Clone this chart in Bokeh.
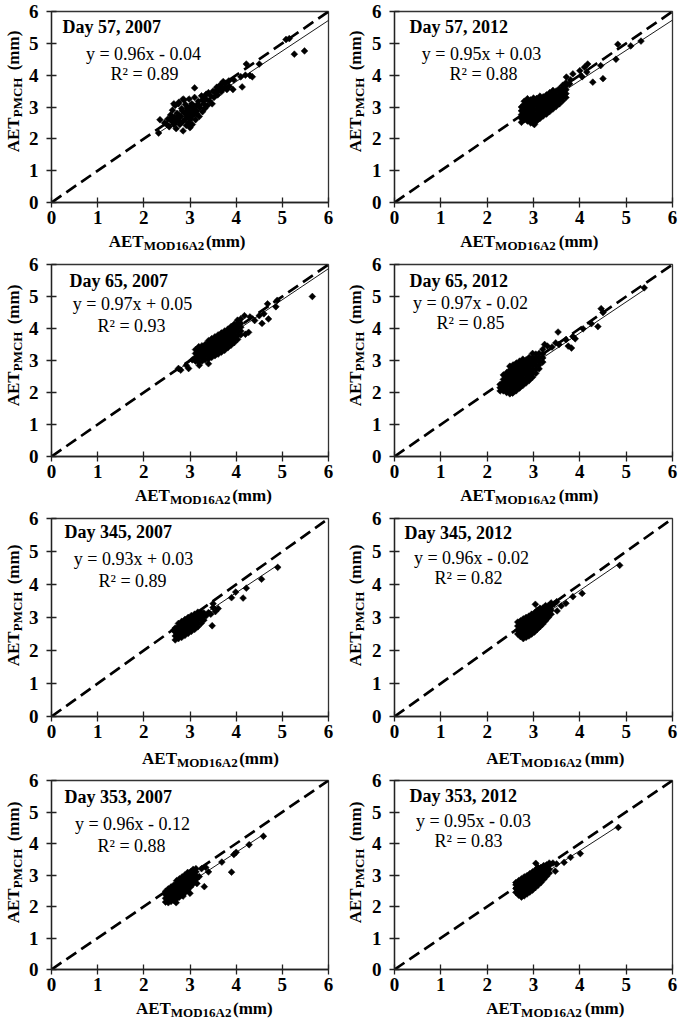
import math
from bokeh.plotting import figure
from bokeh.layouts import column, row
from bokeh.models import Range1d, FixedTicker, Label
from bokeh.embed import file_html
from bokeh.resources import INLINE

# ---------------- data ----------------
TITLES = ["Day 57, 2007", "Day 57, 2012", "Day 65, 2007", "Day 65, 2012",
          "Day 345, 2007", "Day 345, 2012", "Day 353, 2007", "Day 353, 2012"]
SLOPES = [0.96, 0.95, 0.97, 0.97, 0.93, 0.96, 0.96, 0.95]
INTERCEPTS = [-0.04, 0.03, 0.05, -0.02, 0.03, -0.02, -0.12, -0.03]
R2 = [0.89, 0.88, 0.93, 0.85, 0.89, 0.82, 0.88, 0.83]
FIT_X = [(2.3, 6.0), (2.75, 6.0), (2.75, 6.0), (2.25, 5.4),
         (2.65, 4.9), (2.65, 4.86), (2.45, 4.6), (2.6, 4.83)]
TICKS = [0, 1, 2, 3, 4, 5, 6]
ONE_TO_ONE = [0, 6]
X_TITLE = ("AET", "MOD16A2", "(mm)")
Y_TITLE = ("AET", "PMCH", "(mm)")

d57_2007 = [
    (2.32, 2.18), (2.35, 2.60), (2.45, 2.50), (2.50, 2.45), (2.52, 2.62), (2.55, 2.38), (2.58, 2.75),
    (2.60, 2.55), (2.62, 2.90), (2.65, 2.45), (2.66, 2.68), (2.68, 3.05), (2.70, 2.32), (2.72, 2.80),
    (2.74, 2.58), (2.76, 3.15), (2.78, 2.45), (2.80, 2.70), (2.82, 2.95), (2.85, 2.25), (2.85, 2.55),
    (2.87, 3.22), (2.88, 2.80), (2.90, 2.62), (2.92, 2.42), (2.94, 3.00), (2.95, 2.72), (2.97, 2.52),
    (2.98, 3.25), (3.00, 2.85), (3.02, 2.62), (3.04, 3.10), (3.05, 2.45), (3.07, 2.95), (3.08, 2.75),
    (3.10, 3.60), (3.10, 3.30), (3.12, 2.60), (3.14, 3.05), (3.15, 2.88), (3.18, 3.18), (3.20, 2.70),
    (3.22, 2.98), (3.25, 3.35), (3.27, 2.85), (3.30, 3.10), (3.32, 2.95), (3.35, 3.25), (3.38, 3.05),
    (3.40, 3.45), (3.42, 3.20), (3.45, 3.35), (3.48, 3.10), (3.50, 3.50), (3.52, 3.30), (3.55, 3.45),
    (3.58, 3.62), (3.60, 3.38), (3.63, 3.55), (3.66, 3.70), (3.68, 3.48), (3.72, 3.80), (3.75, 3.62),
    (3.78, 3.75), (3.80, 3.55), (3.84, 3.82), (3.93, 3.55), (3.70, 3.55), (4.13, 3.63), (4.22, 4.35),
    (4.30, 3.99), (4.35, 3.95), (4.50, 4.35), (5.08, 5.12), (5.15, 5.15), (5.26, 4.66), (5.48, 4.76),
    (2.75, 3.10), (2.65, 3.10), (2.85, 3.25), (2.72, 2.62), (2.80, 2.50), (2.92, 2.85), (3.00, 2.35),
    (2.60, 2.65), (2.95, 2.95), (3.05, 2.75), (3.15, 2.78), (3.10, 2.90), (2.68, 2.52), (2.77, 2.72),
    (2.83, 2.88), (2.90, 3.08), (2.97, 2.68), (3.02, 3.02), (3.20, 3.05), (3.28, 3.20), (3.35, 3.40),
    (3.60, 3.50), (3.85, 3.65), (4.10, 3.95), (3.95, 3.85), (4.20, 4.00),
]

d57_2012 = [
    (2.74, 2.52), (2.74, 2.64), (2.74, 2.76), (2.74, 2.88), (2.74, 3.00),
    (2.80, 2.60), (2.80, 2.72), (2.80, 2.84), (2.80, 2.96), (2.80, 3.08), (2.80, 3.18),
    (2.87, 2.56), (2.87, 2.68), (2.87, 2.80), (2.87, 2.92), (2.87, 3.04), (2.87, 3.16), (2.87, 3.26),
    (2.94, 2.50), (2.94, 2.62), (2.94, 2.74), (2.94, 2.86), (2.94, 2.98), (2.94, 3.10), (2.94, 3.22),
    (3.00, 2.48), (3.00, 2.58), (3.00, 2.70), (3.00, 2.82), (3.00, 2.94), (3.00, 3.06), (3.00, 3.18),
    (3.00, 3.28), (3.07, 2.56), (3.07, 2.68), (3.07, 2.80), (3.07, 2.92), (3.07, 3.04), (3.07, 3.16),
    (3.07, 3.27), (3.14, 2.64), (3.14, 2.76), (3.14, 2.88), (3.14, 3.00), (3.14, 3.12), (3.14, 3.24),
    (3.14, 3.34), (3.21, 2.72), (3.21, 2.84), (3.21, 2.96), (3.21, 3.08), (3.21, 3.20), (3.21, 3.32),
    (3.28, 2.78), (3.28, 2.90), (3.28, 3.02), (3.28, 3.14), (3.28, 3.26), (3.28, 3.38),
    (3.35, 2.86), (3.35, 2.98), (3.35, 3.10), (3.35, 3.22), (3.35, 3.34), (3.35, 3.45),
    (3.42, 2.94), (3.42, 3.06), (3.42, 3.18), (3.42, 3.30), (3.42, 3.42), (3.42, 3.52),
    (3.49, 3.02), (3.49, 3.14), (3.49, 3.26), (3.49, 3.38), (3.49, 3.50),
    (3.56, 3.10), (3.56, 3.22), (3.56, 3.34), (3.56, 3.46), (3.56, 3.58),
    (3.63, 3.20), (3.63, 3.32), (3.63, 3.44), (3.63, 3.56), (3.63, 3.68),
    (3.70, 3.30), (3.70, 3.42), (3.70, 3.54), (3.70, 3.66), (3.70, 3.76),
    (3.71, 3.94), (3.78, 3.73), (3.85, 4.04), (4.00, 4.14), (4.05, 3.95), (4.17, 4.35), (4.15, 4.10),
    (4.28, 3.78), (4.50, 3.89), (4.45, 4.30), (4.78, 4.50), (4.82, 4.97), (5.10, 4.92), (5.32, 5.07),
    (3.02, 2.45), (3.80, 3.85), (4.10, 4.25),
]

d65_2007 = [
    (3.12, 2.98), (3.12, 3.10), (3.12, 3.22), (3.12, 3.34),
    (3.19, 2.95), (3.19, 3.07), (3.19, 3.19), (3.19, 3.31), (3.19, 3.43),
    (3.26, 2.98), (3.26, 3.10), (3.26, 3.22), (3.26, 3.34), (3.26, 3.46),
    (3.33, 3.02), (3.33, 3.14), (3.33, 3.26), (3.33, 3.38), (3.33, 3.50),
    (3.40, 3.05), (3.40, 3.17), (3.40, 3.29), (3.40, 3.41), (3.40, 3.53), (3.40, 3.62),
    (3.47, 3.10), (3.47, 3.22), (3.47, 3.34), (3.47, 3.46), (3.47, 3.58), (3.47, 3.68),
    (3.54, 3.15), (3.54, 3.27), (3.54, 3.39), (3.54, 3.51), (3.54, 3.63), (3.54, 3.74),
    (3.61, 3.20), (3.61, 3.32), (3.61, 3.44), (3.61, 3.56), (3.61, 3.68), (3.61, 3.80),
    (3.68, 3.26), (3.68, 3.38), (3.68, 3.50), (3.68, 3.62), (3.68, 3.74), (3.68, 3.86),
    (3.75, 3.32), (3.75, 3.44), (3.75, 3.56), (3.75, 3.68), (3.75, 3.80), (3.75, 3.92),
    (3.82, 3.40), (3.82, 3.52), (3.82, 3.64), (3.82, 3.76), (3.82, 3.88), (3.82, 3.98),
    (3.89, 3.48), (3.89, 3.60), (3.89, 3.72), (3.89, 3.84), (3.89, 3.96), (3.89, 4.06),
    (3.96, 3.56), (3.96, 3.68), (3.96, 3.80), (3.96, 3.92), (3.96, 4.04), (3.96, 4.14),
    (4.03, 3.66), (4.03, 3.78), (4.03, 3.90), (4.03, 4.02), (4.03, 4.14), (4.03, 4.26),
    (4.10, 3.80), (4.10, 3.92), (4.10, 4.04), (4.10, 4.16), (4.10, 4.30),
    (2.75, 2.75), (2.80, 2.70), (2.92, 2.85), (2.97, 2.75), (3.05, 3.02), (3.20, 2.85), (3.40, 2.90),
    (4.20, 3.82), (4.27, 3.88), (4.18, 4.40), (4.30, 4.36), (4.56, 4.16), (4.60, 4.46), (4.70, 4.30),
    (4.68, 4.77), (4.86, 4.68), (4.89, 4.88), (5.65, 5.00), (4.40, 4.25), (4.50, 4.40),
]

d65_2012 = [
    (2.28, 2.05), (2.28, 2.15), (2.28, 2.25),
    (2.35, 2.05), (2.35, 2.17), (2.35, 2.29), (2.35, 2.41),
    (2.42, 2.00), (2.42, 2.12), (2.42, 2.24), (2.42, 2.36), (2.42, 2.50), (2.42, 2.62),
    (2.49, 1.96), (2.49, 2.08), (2.49, 2.20), (2.49, 2.32), (2.49, 2.44), (2.49, 2.56), (2.49, 2.70),
    (2.49, 2.82), (2.56, 2.02), (2.56, 2.14), (2.56, 2.26), (2.56, 2.38), (2.56, 2.50), (2.56, 2.62),
    (2.56, 2.74), (2.56, 2.86), (2.63, 2.06), (2.63, 2.18), (2.63, 2.30), (2.63, 2.42), (2.63, 2.54),
    (2.63, 2.66), (2.63, 2.78), (2.63, 2.92), (2.70, 2.14), (2.70, 2.26), (2.70, 2.38), (2.70, 2.50),
    (2.70, 2.62), (2.70, 2.74), (2.70, 2.86), (2.70, 2.98), (2.77, 2.22), (2.77, 2.34), (2.77, 2.46),
    (2.77, 2.58), (2.77, 2.70), (2.77, 2.82), (2.77, 2.94), (2.77, 3.04),
    (2.84, 2.30), (2.84, 2.42), (2.84, 2.54), (2.84, 2.66), (2.84, 2.78), (2.84, 2.90), (2.84, 3.02),
    (2.91, 2.38), (2.91, 2.50), (2.91, 2.62), (2.91, 2.74), (2.91, 2.86), (2.91, 2.98), (2.91, 3.10),
    (2.98, 2.48), (2.98, 2.60), (2.98, 2.72), (2.98, 2.84), (2.98, 2.96), (2.98, 3.08), (2.98, 3.22),
    (3.05, 2.60), (3.05, 2.72), (3.05, 2.84), (3.05, 2.96), (3.05, 3.08), (3.05, 3.20),
    (3.12, 2.74), (3.12, 2.86), (3.12, 2.98), (3.12, 3.10), (3.12, 3.22),
    (3.20, 2.95), (3.20, 3.08), (3.20, 3.20), (3.20, 3.35),
    (3.24, 3.50), (3.30, 3.45), (3.40, 3.42), (3.53, 3.89), (3.55, 3.50), (3.48, 3.55), (3.70, 3.65),
    (3.75, 3.45), (3.82, 3.39), (3.85, 3.75), (3.90, 3.68), (4.07, 3.99), (4.25, 4.15), (4.39, 4.06),
    (4.46, 4.62), (4.50, 4.50), (5.39, 5.27), (2.55, 1.98), (2.60, 2.05), (2.35, 2.55),
]

d345_2007 = [
    (2.68, 2.32), (2.68, 2.44), (2.68, 2.56), (2.68, 2.68),
    (2.75, 2.36), (2.75, 2.48), (2.75, 2.60), (2.75, 2.72), (2.75, 2.82),
    (2.82, 2.40), (2.82, 2.52), (2.82, 2.64), (2.82, 2.76), (2.82, 2.88),
    (2.89, 2.46), (2.89, 2.58), (2.89, 2.70), (2.89, 2.82), (2.89, 2.94),
    (2.96, 2.52), (2.96, 2.64), (2.96, 2.76), (2.96, 2.88), (2.96, 3.00),
    (3.03, 2.58), (3.03, 2.70), (3.03, 2.82), (3.03, 2.94), (3.03, 3.06),
    (3.10, 2.64), (3.10, 2.76), (3.10, 2.88), (3.10, 3.00), (3.10, 3.10),
    (3.17, 2.72), (3.17, 2.84), (3.17, 2.96), (3.17, 3.08), (3.17, 3.16),
    (3.24, 2.82), (3.24, 2.94), (3.24, 3.06), (3.24, 3.16),
    (3.30, 2.92), (3.30, 3.04), (3.30, 3.14),
    (3.48, 2.75), (3.45, 3.10), (3.50, 3.42), (3.50, 3.30), (3.61, 3.27), (3.55, 3.18), (3.90, 3.60),
    (3.99, 3.77), (4.15, 3.59), (4.22, 3.89), (4.55, 4.16), (4.90, 4.52), (2.65, 2.62), (3.35, 3.05),
    (3.40, 3.15),
]

d345_2012 = [
    (2.66, 2.50), (2.66, 2.62), (2.66, 2.74), (2.66, 2.86),
    (2.72, 2.42), (2.72, 2.54), (2.72, 2.66), (2.72, 2.78), (2.72, 2.90),
    (2.78, 2.36), (2.78, 2.48), (2.78, 2.60), (2.78, 2.72), (2.78, 2.84), (2.78, 2.96),
    (2.84, 2.40), (2.84, 2.52), (2.84, 2.64), (2.84, 2.76), (2.84, 2.88), (2.84, 3.00),
    (2.90, 2.44), (2.90, 2.56), (2.90, 2.68), (2.90, 2.80), (2.90, 2.92), (2.90, 3.04),
    (2.96, 2.50), (2.96, 2.62), (2.96, 2.74), (2.96, 2.86), (2.96, 2.98), (2.96, 3.10),
    (3.02, 2.56), (3.02, 2.68), (3.02, 2.80), (3.02, 2.92), (3.02, 3.04), (3.02, 3.14),
    (3.08, 2.64), (3.08, 2.76), (3.08, 2.88), (3.08, 3.00), (3.08, 3.12), (3.08, 3.22),
    (3.14, 2.72), (3.14, 2.84), (3.14, 2.96), (3.14, 3.08), (3.14, 3.20), (3.14, 3.28),
    (3.20, 2.80), (3.20, 2.92), (3.20, 3.04), (3.20, 3.16), (3.20, 3.28),
    (3.26, 2.90), (3.26, 3.02), (3.26, 3.14), (3.26, 3.26), (3.26, 3.36),
    (3.32, 3.00), (3.32, 3.12), (3.32, 3.24), (3.32, 3.36),
    (3.38, 3.10), (3.38, 3.22), (3.38, 3.34), (3.38, 3.44),
    (3.04, 3.40), (3.51, 3.20), (3.50, 3.48), (3.45, 3.42), (3.60, 3.35), (3.70, 3.43), (3.85, 3.63),
    (4.05, 3.73), (4.86, 4.58),
]

d353_2007 = [
    (2.47, 2.14), (2.47, 2.26), (2.47, 2.38), (2.47, 2.48),
    (2.53, 2.12), (2.53, 2.24), (2.53, 2.36), (2.53, 2.48), (2.53, 2.56),
    (2.59, 2.16), (2.59, 2.28), (2.59, 2.40), (2.59, 2.52), (2.59, 2.62),
    (2.65, 2.20), (2.65, 2.32), (2.65, 2.44), (2.65, 2.56), (2.65, 2.68),
    (2.71, 2.24), (2.71, 2.36), (2.71, 2.48), (2.71, 2.60), (2.71, 2.72), (2.71, 2.82),
    (2.77, 2.30), (2.77, 2.42), (2.77, 2.54), (2.77, 2.66), (2.77, 2.78), (2.77, 2.88),
    (2.83, 2.36), (2.83, 2.48), (2.83, 2.60), (2.83, 2.72), (2.83, 2.84), (2.83, 2.94),
    (2.89, 2.44), (2.89, 2.56), (2.89, 2.68), (2.89, 2.80), (2.89, 2.92), (2.89, 3.00),
    (2.95, 2.52), (2.95, 2.64), (2.95, 2.76), (2.95, 2.88), (2.95, 3.00), (2.95, 3.08),
    (3.01, 2.62), (3.01, 2.74), (3.01, 2.86), (3.01, 2.98), (3.01, 3.10),
    (3.07, 2.72), (3.07, 2.84), (3.07, 2.96), (3.07, 3.08), (3.07, 3.18),
    (3.13, 2.86), (3.13, 2.98), (3.13, 3.10), (3.13, 3.20),
    (3.00, 2.42), (3.15, 2.73), (3.31, 2.63), (3.20, 2.95), (3.34, 3.24), (3.40, 3.10), (3.25, 3.20),
    (3.69, 3.41), (3.90, 3.09), (3.95, 3.65), (4.00, 3.72), (4.28, 3.96), (4.59, 4.23), (2.85, 2.33),
    (2.70, 2.12),
]

d353_2012 = [
    (2.62, 2.45), (2.62, 2.57), (2.62, 2.69), (2.62, 2.76),
    (2.68, 2.36), (2.68, 2.48), (2.68, 2.60), (2.68, 2.72), (2.68, 2.82),
    (2.74, 2.30), (2.74, 2.42), (2.74, 2.54), (2.74, 2.66), (2.74, 2.78), (2.74, 2.88),
    (2.80, 2.34), (2.80, 2.46), (2.80, 2.58), (2.80, 2.70), (2.80, 2.82), (2.80, 2.94),
    (2.86, 2.40), (2.86, 2.52), (2.86, 2.64), (2.86, 2.76), (2.86, 2.88), (2.86, 2.98),
    (2.92, 2.46), (2.92, 2.58), (2.92, 2.70), (2.92, 2.82), (2.92, 2.94), (2.92, 3.04),
    (2.98, 2.52), (2.98, 2.64), (2.98, 2.76), (2.98, 2.88), (2.98, 3.00), (2.98, 3.10),
    (3.04, 2.60), (3.04, 2.72), (3.04, 2.84), (3.04, 2.96), (3.04, 3.08), (3.04, 3.16),
    (3.10, 2.68), (3.10, 2.80), (3.10, 2.92), (3.10, 3.04), (3.10, 3.16), (3.10, 3.24),
    (3.16, 2.76), (3.16, 2.88), (3.16, 3.00), (3.16, 3.12), (3.16, 3.24),
    (3.22, 2.86), (3.22, 2.98), (3.22, 3.10), (3.22, 3.22), (3.22, 3.30),
    (3.28, 2.96), (3.28, 3.08), (3.28, 3.20), (3.28, 3.32),
    (3.34, 3.06), (3.34, 3.18), (3.34, 3.30), (3.34, 3.38),
    (3.05, 3.37), (3.47, 3.12), (3.50, 3.35), (3.42, 3.38), (3.66, 3.40), (3.80, 3.56), (4.01, 3.68),
    (4.83, 4.51),
]

PANEL_POINTS = [d57_2007, d57_2012, d65_2007, d65_2012, d345_2007, d345_2012, d353_2007, d353_2012]

# ---------------- layout (pixels, relative to the layout's top-left corner) ----------------
FONT = "Liberation Serif"
MID = 0.3375   # distance (in em) from the alphabetic baseline up to the text box middle
COLS = [dict(ys=25, yb=19, left=25, fw=277, right=13),
        dict(ys=27, yb=20, left=26, fw=278, right=6)]
ROWS = [dict(top=11, fh=191, tb=29, xs=22, xb=16),
        dict(top=11, fh=192, tb=29, xs=22, xb=16),
        dict(top=11, fh=198, tb=29, xs=24, xb=19),
        dict(top=11, fh=189, tb=29, xs=21, xb=16)]
# absolute positions: (title left x, title baseline y, eq centre x, eq centre y, r2 centre x, r2 centre y)
TEXT_POS = [(61, 33, 142, 53, 143, 73), (408, 33, 480, 53, 482, 73),
            (68, 287, 131, 303, 130, 325), (408, 287, 469, 302, 469, 322),
            (63, 538, 132, 558, 131, 580), (403, 539, 470, 557, 467, 577),
            (63, 803, 131, 823, 130, 845), (408, 802, 472, 820, 467, 840)]
XTITLE_CX = [168, 517, 198, 517, 206, 546, 199, 546]
YTITLE_CY = [91, 345, 605, 862]
MAIN_W = {"AET": 35.0, "(mm)": 39.6}
SUB_W = {"MOD16A2": 65.0, "PMCH": 41.0}
SPACE_W = 6.0
SUB_DROP = 2
MAIN_PX, SUB_PX = 17, 13


def add_label(p, x, y, text, size_px, bold=True, align="left", angle=0.0):
    p.add_layout(Label(x=x, y=y, x_units="data", y_units="data", text=text,
                       text_font=FONT, text_font_size="%dpx" % size_px,
                       text_font_style="bold" if bold else "normal",
                       text_color="black", text_align=align, text_baseline="middle",
                       angle=angle))


def strip(w, h):
    s = figure(width=w, height=h, x_range=Range1d(0, w), y_range=Range1d(h, 0),
               title=None, min_border=0, x_axis_location=None, y_axis_location=None,
               output_backend="svg", toolbar_location=None, tools="")
    s.xgrid.visible = False
    s.ygrid.visible = False
    s.outline_line_color = None
    s.background_fill_color = "white"
    s.border_fill_color = "white"
    return s


col_x0 = []
x = 0
for C in COLS:
    col_x0.append(x)
    x += C["ys"] + C["left"] + C["fw"] + C["right"]
row_y0 = []
y = 0
for R in ROWS:
    row_y0.append(y)
    y += R["top"] + R["fh"] + R["tb"] + R["xs"]


def make_panel(i):
    r, c = divmod(i, 2)
    R, C = ROWS[r], COLS[c]
    fw, fh = C["fw"], R["fh"]
    ux, uy = fw / 6.0, fh / 6.0
    fig_x0 = col_x0[c] + C["ys"]
    frame_x0 = fig_x0 + C["left"]
    frame_y0 = row_y0[r] + R["top"]

    p = figure(frame_width=fw, frame_height=fh, title=None,
               min_border_left=C["left"], min_border_right=C["right"],
               min_border_top=R["top"], min_border_bottom=R["tb"],
               x_range=Range1d(0, 6), y_range=Range1d(0, 6),
               output_backend="svg", toolbar_location=None, tools="")
    p.grid.visible = False
    p.background_fill_color = "white"
    p.border_fill_color = "white"
    p.outline_line_color = "#333333"
    p.outline_line_width = 1.3
    for ax in (p.xaxis[0], p.yaxis[0]):
        ax.ticker = FixedTicker(ticks=TICKS)
        ax.minor_tick_line_color = None
        ax.major_tick_in = 5
        ax.major_tick_out = 5
        ax.axis_line_color = "#222222"
        ax.axis_line_width = 1.3
        ax.major_tick_line_color = "#222222"
        ax.major_tick_line_width = 1.3
        ax.major_label_text_font = FONT
        ax.major_label_text_font_size = "19px"
        ax.major_label_text_font_style = "bold"
        ax.major_label_text_color = "black"
    p.xaxis[0].major_label_standoff = 3
    p.yaxis[0].major_label_standoff = 8

    xs = [pt[0] for pt in PANEL_POINTS[i]]
    ys = [pt[1] for pt in PANEL_POINTS[i]]
    p.scatter(xs, ys, marker="square", size=4.8, angle=math.pi / 4,
              fill_color="black", line_color="black", line_width=0.5)

    p.line(ONE_TO_ONE, ONE_TO_ONE, line_dash="12 6", line_width=2.7, line_color="black")
    a, b = SLOPES[i], INTERCEPTS[i]
    x0, x1 = FIT_X[i]
    p.line([x0, x1], [a * x0 + b, a * x1 + b], line_width=0.9, line_color="black")

    def dx(ax_):
        return (ax_ - frame_x0) / ux

    def dy(ay_):
        return 6 - (ay_ - frame_y0) / uy

    tx, ty, ex, ey, rx, ry = TEXT_POS[i]
    add_label(p, dx(tx), dy(ty - MID * 18), TITLES[i], 18, bold=True)
    sign = "+" if b >= 0 else "-"
    eq = "y = %.2fx %s %.2f" % (a, sign, abs(b))
    add_label(p, dx(ex), dy(ey), eq, 18, bold=False, align="center")
    add_label(p, dx(rx), dy(ry), "R\u00b2 = %.2f" % R2[i], 18, bold=False, align="center")

    fig_w = C["left"] + fw + C["right"]
    fig_h = R["top"] + fh + R["tb"]

    # x-axis title strip below the figure
    xsf = strip(fig_w, R["xs"])
    main, sub, unit = X_TITLE
    total = MAIN_W[main] + SUB_W[sub] + SPACE_W + MAIN_W[unit]
    P = XTITLE_CX[i] - fig_x0 - total / 2.0 + MAIN_W[main]
    xb = R["xb"]
    add_label(xsf, P, xb - MID * MAIN_PX, main, MAIN_PX, align="right")
    add_label(xsf, P, xb + SUB_DROP - MID * SUB_PX, sub, SUB_PX, align="left")
    add_label(xsf, P + SUB_W[sub] + SPACE_W, xb - MID * MAIN_PX, unit, MAIN_PX, align="left")

    # y-axis title strip left of the figure (rotated text, reading upwards)
    ysf = strip(C["ys"], fig_h)
    main, sub, unit = Y_TITLE
    total = MAIN_W[main] + SUB_W[sub] + SPACE_W + MAIN_W[unit]
    yc = YTITLE_CY[r] - row_y0[r]
    Py = yc + total / 2.0 - MAIN_W[main]
    yb = C["yb"]
    rot = math.pi / 2
    add_label(ysf, yb - MID * MAIN_PX, Py, main, MAIN_PX, align="right", angle=rot)
    add_label(ysf, yb + SUB_DROP - MID * SUB_PX, Py, sub, SUB_PX, align="left", angle=rot)
    add_label(ysf, yb - MID * MAIN_PX, Py - SUB_W[sub] - SPACE_W, unit, MAIN_PX, align="left", angle=rot)

    return row(ysf, column(p, xsf))


cells = [make_panel(i) for i in range(8)]
layout = column(*[row(cells[2 * k], cells[2 * k + 1]) for k in range(4)])

open("out.html", "w").write(file_html(layout, INLINE, title="AET scatter"))
